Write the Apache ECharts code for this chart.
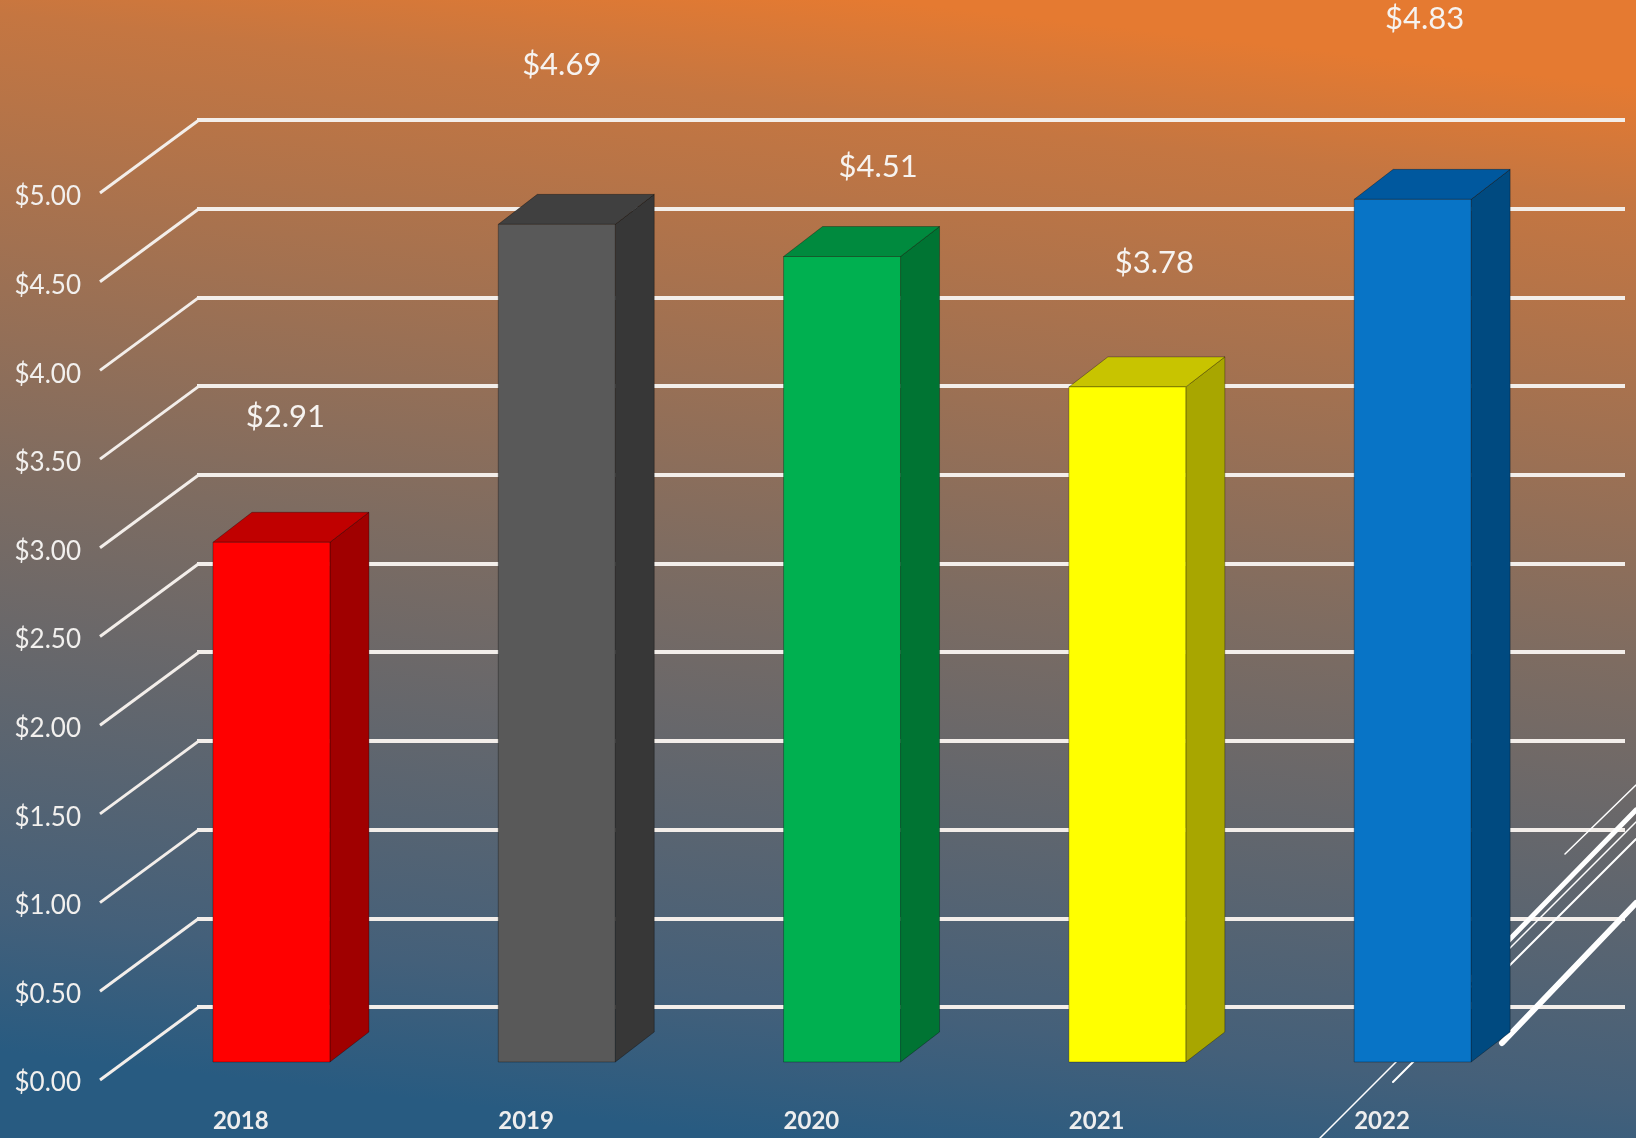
<!DOCTYPE html>
<html>
<head>
<meta charset="utf-8">
<title>Price by year</title>
<script src="https://cdn.jsdelivr.net/npm/echarts@6/dist/echarts.min.js"></script>
<style>
  html, body { margin: 0; padding: 0; }
  #chart { width: 1636px; height: 1138px; }
</style>
</head>
<body>
<div id="chart"></div>
<script>
const years = ['2018', '2019', '2020', '2021', '2022']
const prices = [2.91, 4.69, 4.51, 3.78, 4.83]
const yTicks = [0, 0.5, 1, 1.5, 2, 2.5, 3, 3.5, 4, 4.5, 5]

// front / top / side colour of each bar
const barFaces = [
  ['#FF0000', '#C00000', '#A00000'],
  ['#595959', '#404040', '#373737'],
  ['#00B050', '#008A3E', '#007433'],
  ['#FFFF00', '#C8C400', '#A8A600'],
  ['#0874C6', '#00589E', '#004A80']
]
// where the value labels sit, relative to the front-top of each bar
const labelNudge = [[14, -125], [5, -159], [36, -90], [27, -124], [12, -180]]

const FONT = 'Lato, "Open Sans", sans-serif'
const LINE = '#F3EEEA'
const DEPTH_X = 39
const DEPTH_Y = 30

const chart = echarts.init(document.getElementById('chart'))

const renderBar = (params, api) => {
  const i = params.dataIndex
  const v = api.value(1)
  const top = api.coord([api.value(0), v])
  const base = api.coord([api.value(0), 0])
  const w = api.size([1, 0])[0] * 0.41
  const x0 = top[0] - w / 2
  const x1 = top[0] + w / 2
  const c = barFaces[i]
  const edge = 'rgba(0,0,0,0.3)'
  return {
    type: 'group',
    children: [
      {
        type: 'polygon',
        shape: { points: [[x1, top[1]], [x1 + DEPTH_X, top[1] - DEPTH_Y], [x1 + DEPTH_X, base[1] - DEPTH_Y], [x1, base[1]]] },
        style: { fill: c[2], stroke: edge, lineWidth: 1 }
      },
      {
        type: 'polygon',
        shape: { points: [[x0, top[1]], [x0 + DEPTH_X, top[1] - DEPTH_Y], [x1 + DEPTH_X, top[1] - DEPTH_Y], [x1, top[1]]] },
        style: { fill: c[1], stroke: edge, lineWidth: 1 }
      },
      {
        type: 'rect',
        shape: { x: x0, y: top[1], width: w, height: base[1] - top[1] },
        style: { fill: c[0], stroke: edge, lineWidth: 1 }
      },
      {
        type: 'text',
        x: top[0] + labelNudge[i][0],
        y: top[1] + labelNudge[i][1],
        style: {
          text: '$' + v.toFixed(2),
          fill: '#F6F3F0',
          fontSize: 31,
          fontFamily: FONT,
          align: 'center',
          verticalAlign: 'middle',
          shadowColor: 'rgba(0,0,0,0.35)',
          shadowBlur: 2
        }
      }
    ]
  }
}

// perspective edge from the front of the floor/side wall to the back wall
const renderEdge = (params, api) => {
  const p = api.coord([0, api.value(1)])
  return {
    type: 'polyline',
    shape: { points: [[p[0] - 97, p[1] + 73], [p[0] + 2, p[1]]] },
    style: { stroke: LINE, lineWidth: 3, fill: null }
  }
}

// slide decoration in the lower right corner
const deco = [
  { x1: 1320, y1: 1138, x2: 1636, y2: 822, w: 1.5 },
  { x1: 1393, y1: 1082, x2: 1636, y2: 839, w: 2 },
  { x1: 1470, y1: 980, x2: 1636, y2: 810, w: 5 },
  { x1: 1502, y1: 1043, x2: 1636, y2: 903, w: 6 },
  { x1: 1565, y1: 854, x2: 1636, y2: 785, w: 1.5 }
]

const option = {
  animation: false,
  backgroundColor: {
    type: 'linear',
    x: 0.46, y: 1, x2: 0.54, y2: 0,
    colorStops: [
      { offset: 0, color: '#285B81' },
      { offset: 0.12, color: '#44607A' },
      { offset: 0.5, color: '#7E6C61' },
      { offset: 0.9, color: '#C57641' },
      { offset: 1, color: '#E57A31' }
    ]
  },
  graphic: {
    elements: deco.map((d) => ({
      type: 'line',
      z: 1,
      silent: true,
      shape: { x1: d.x1, y1: d.y1, x2: d.x2, y2: d.y2 },
      style: { stroke: '#FFFFFF', lineWidth: d.w, lineCap: 'round' }
    }))
  },
  grid: [
    { left: 128.8, width: 1426.5, top: 169, height: 893, outerBoundsMode: 'none' },
    { left: 70.3, width: 1426.5, top: 169, height: 893, outerBoundsMode: 'none' },
    { left: 197, right: 11, top: 120, height: 887, outerBoundsMode: 'none' },
    { left: 100, width: 10, top: 197, height: 886, outerBoundsMode: 'none' }
  ],
  xAxis: [
    { gridIndex: 0, type: 'category', data: years, show: false },
    {
      gridIndex: 1,
      type: 'category',
      data: years,
      axisLine: { show: false },
      axisTick: { show: false },
      axisLabel: {
        align: 'left',
        margin: 47,
        color: '#EEEEEE',
        fontSize: 24,
        fontWeight: 'bold',
        fontFamily: FONT
      }
    },
    { gridIndex: 2, type: 'value', min: 0, max: 1, show: false },
    { gridIndex: 3, type: 'value', min: 0, max: 1, show: false }
  ],
  yAxis: [
    { gridIndex: 0, type: 'value', min: 0, max: 5, show: false },
    { gridIndex: 1, type: 'value', min: 0, max: 5, show: false },
    {
      gridIndex: 2,
      type: 'value',
      min: 0,
      max: 5,
      interval: 0.5,
      axisLine: { show: false },
      axisTick: { show: false },
      axisLabel: { show: false },
      splitLine: { show: true, lineStyle: { color: LINE, width: 4 } }
    },
    {
      gridIndex: 3,
      type: 'value',
      min: 0,
      max: 5,
      interval: 0.5,
      axisLine: { show: false },
      axisTick: { show: false },
      splitLine: { show: false },
      axisLabel: {
        margin: 19,
        color: '#F2F0EE',
        fontSize: 26,
        fontFamily: FONT,
        formatter: (v) => '$' + v.toFixed(2)
      }
    }
  ],
  series: [
    {
      type: 'custom',
      xAxisIndex: 2,
      yAxisIndex: 2,
      silent: true,
      renderItem: renderEdge,
      data: yTicks.map((v) => [0, v])
    },
    {
      type: 'custom',
      xAxisIndex: 0,
      yAxisIndex: 0,
      z: 3,
      renderItem: renderBar,
      data: prices.map((p, i) => [i, p])
    }
  ]
}

chart.setOption(option)
window.addEventListener('resize', function () {
  chart.resize()
})
</script>
</body>
</html>
